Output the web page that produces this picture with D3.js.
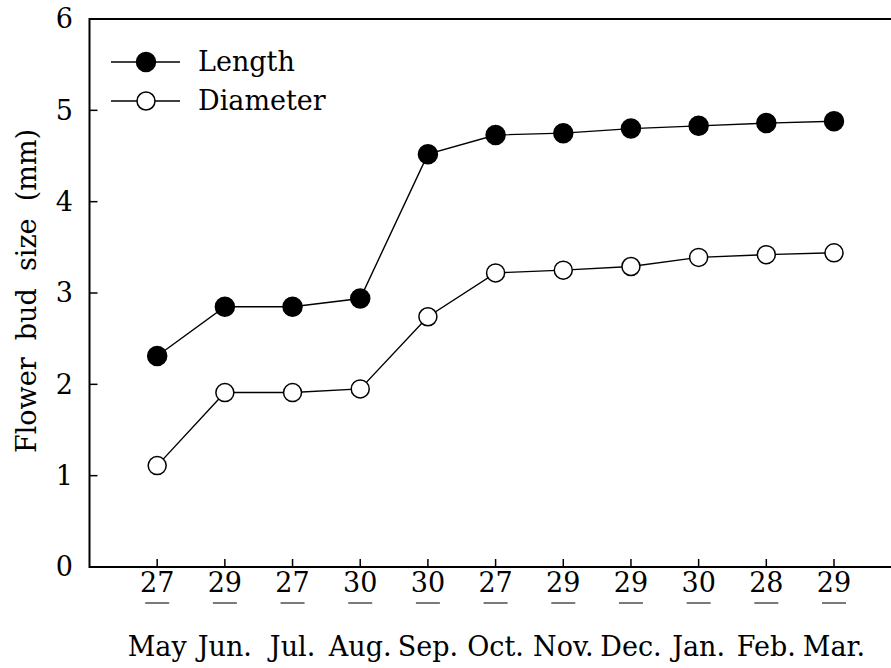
<!DOCTYPE html>
<html>
<head>
<meta charset="utf-8">
<script src="https://cdn.jsdelivr.net/npm/d3@7"></script>
<style>
  html, body { margin: 0; padding: 0; background: #fff; }
  svg text { font-family: "DejaVu Serif", "Liberation Serif", serif; fill: #000; }
</style>
</head>
<body>
<svg id="chart" width="891" height="668"></svg>
<script>
// Sampling dates (day of month) and months
const days = ["27", "29", "27", "30", "30", "27", "29", "29", "30", "28", "29"];
const months = ["May", "Jun.", "Jul.", "Aug.", "Sep.", "Oct.", "Nov.", "Dec.", "Jan.", "Feb.", "Mar."];

// Flower bud size (mm)
const lengthValues = [2.31, 2.85, 2.85, 2.94, 4.52, 4.73, 4.75, 4.80, 4.83, 4.86, 4.88];
const diameterValues = [1.11, 1.91, 1.91, 1.95, 2.74, 3.22, 3.25, 3.29, 3.39, 3.42, 3.44];

const yTicks = [0, 1, 2, 3, 4, 5, 6];

const svg = d3.select("#chart");
const plotLeft = 89.5, plotRight = 891, plotTop = 19, plotBottom = 567;

const x = d3.scaleLinear().domain([-1, 10]).range([plotLeft, 834]);
const y = d3.scaleLinear().domain([0, 6]).range([plotBottom, plotTop]);

const fs = 27;

// frame: left axis, top edge, bottom axis (no right edge)
svg.append("path")
  .attr("d", `M${plotRight},${plotTop}H${plotLeft}V${plotBottom}H${plotRight}`)
  .attr("fill", "none").attr("stroke", "#000").attr("stroke-width", 2);

// y ticks (inward) and labels
const yAxis = svg.append("g");
yAxis.selectAll("line").data(yTicks).join("line")
  .attr("x1", plotLeft).attr("x2", plotLeft + 8)
  .attr("y1", d => y(d)).attr("y2", d => y(d))
  .attr("stroke", "#000").attr("stroke-width", 1.5);
yAxis.selectAll("text").data(yTicks).join("text")
  .attr("x", 73).attr("y", d => y(d)).attr("dy", "0.35em")
  .attr("text-anchor", "end").attr("font-size", fs)
  .text(d => d);

// x ticks (inward)
const idx = d3.range(days.length);
svg.append("g").selectAll("line").data(idx).join("line")
  .attr("x1", i => x(i)).attr("x2", i => x(i))
  .attr("y1", plotBottom).attr("y2", plotBottom - 8)
  .attr("stroke", "#000").attr("stroke-width", 1.5);

// day labels with grey underline
const dayG = svg.append("g");
dayG.selectAll("text").data(idx).join("text")
  .attr("x", i => x(i)).attr("y", 592)
  .attr("text-anchor", "middle").attr("font-size", fs)
  .text(i => days[i]);
dayG.selectAll("line").data(idx).join("line")
  .attr("x1", i => x(i) - 12).attr("x2", i => x(i) + 12)
  .attr("y1", 603).attr("y2", 603)
  .attr("stroke", "#7a7a7a").attr("stroke-width", 2);

// month labels
svg.append("g").selectAll("text").data(idx).join("text")
  .attr("x", i => x(i)).attr("y", 656)
  .attr("text-anchor", "middle").attr("font-size", fs)
  .text(i => months[i]);

// y axis title
svg.append("text")
  .attr("transform", `translate(36,291) rotate(-90)`)
  .attr("text-anchor", "middle").attr("font-size", fs)
  .attr("xml:space", "preserve")
  .style("white-space", "pre")
  .text("Flower  bud  size  (mm)");

// series
const line = d3.line().x((d, i) => x(i)).y(d => y(d));
const series = [
  { name: "Length", values: lengthValues, fill: "#000", r: 9.5 },
  { name: "Diameter", values: diameterValues, fill: "#fff", r: 9 }
];

series.forEach(s => {
  svg.append("path").datum(s.values)
    .attr("d", line).attr("fill", "none")
    .attr("stroke", "#000").attr("stroke-width", 1.4);
  svg.append("g").selectAll("circle").data(s.values).join("circle")
    .attr("cx", (d, i) => x(i)).attr("cy", d => y(d)).attr("r", s.r)
    .attr("fill", s.fill).attr("stroke", "#000").attr("stroke-width", 1.5);
});

// legend
const legend = svg.append("g");
series.forEach((s, k) => {
  const ly = 62 + k * 39;
  legend.append("line")
    .attr("x1", 111).attr("x2", 180).attr("y1", ly).attr("y2", ly)
    .attr("stroke", "#000").attr("stroke-width", 1.4);
  legend.append("circle")
    .attr("cx", 146).attr("cy", ly).attr("r", s.r)
    .attr("fill", s.fill).attr("stroke", "#000").attr("stroke-width", 1.5);
  legend.append("text")
    .attr("x", 198).attr("y", ly).attr("dy", "0.35em")
    .attr("font-size", fs).text(s.name);
});
</script>
</body>
</html>
